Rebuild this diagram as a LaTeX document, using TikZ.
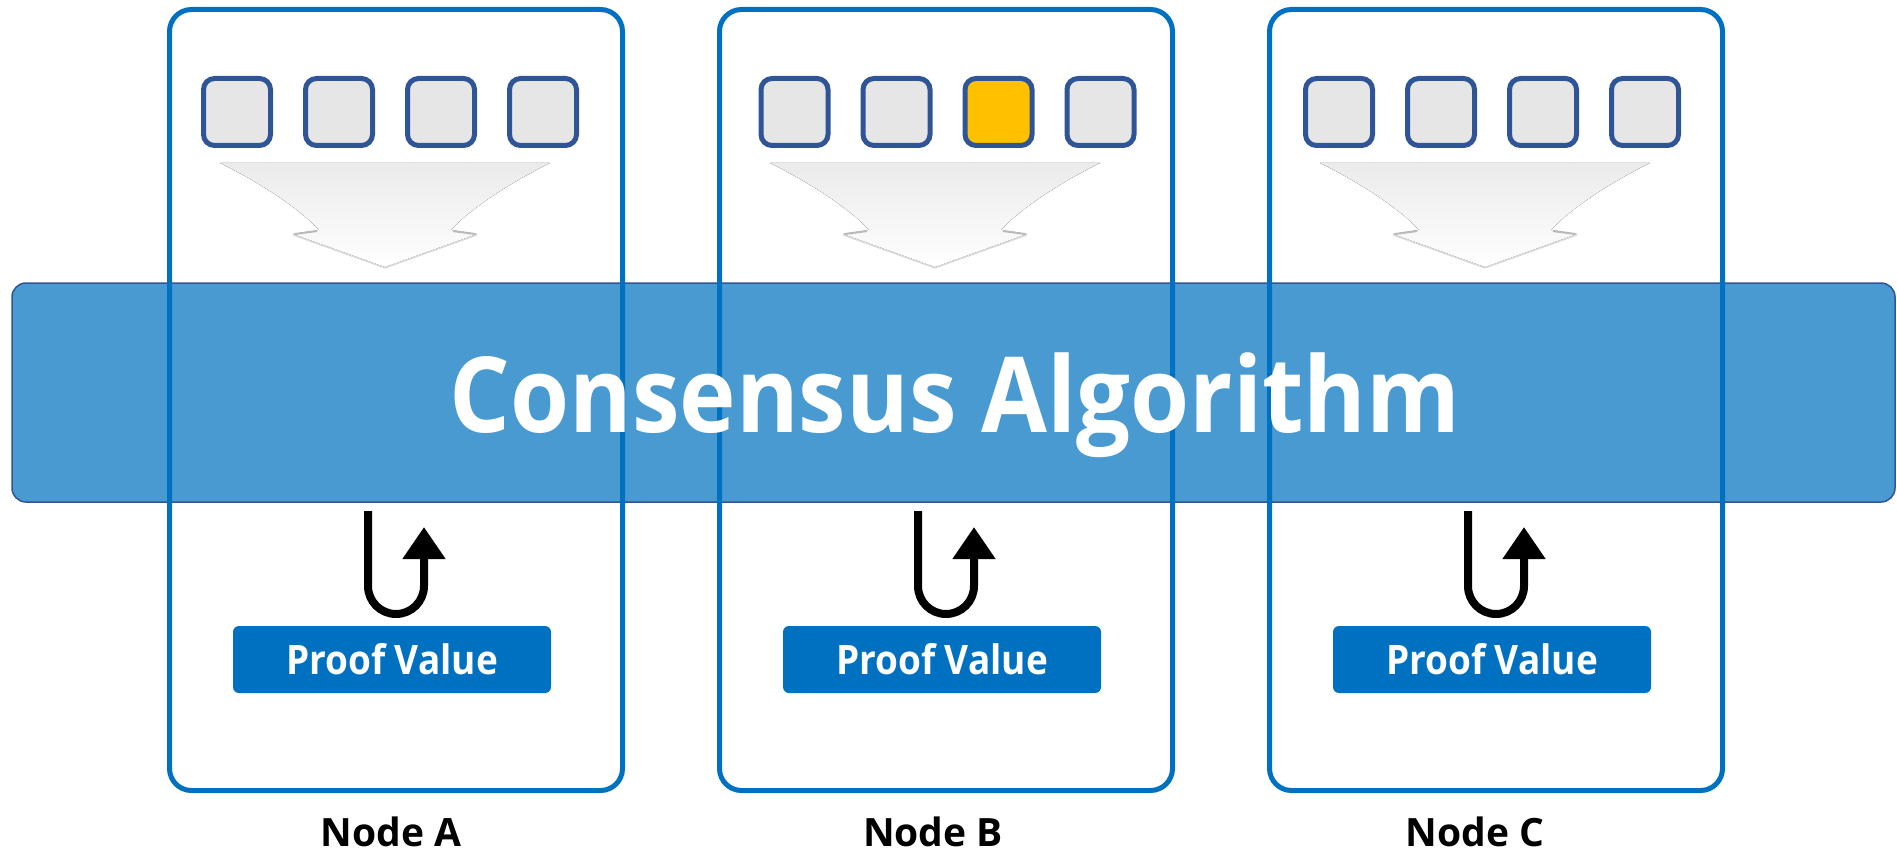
\documentclass[tikz,border=0pt]{standalone}
\usepackage{fontspec}
\setmainfont{Open Sans}
\newfontfamily\narrowfont{Open Sans}[FakeStretch=0.91]
\usetikzlibrary{arrows.meta}
\definecolor{panelblue}{HTML}{0070C0}
\definecolor{bandblue}{HTML}{4A9AD2}
\definecolor{edgeblue}{HTML}{2F5597}
\definecolor{cellgray}{HTML}{E6E6E6}
\definecolor{cellgold}{HTML}{FFC000}

\begin{document}
\begin{tikzpicture}[x=1pt, y=-1pt]
  %
  \tikzstyle{panel} = [draw=panelblue, line width=5pt, rounded corners=22pt, minimum width=453pt, minimum height=781pt, inner sep=0pt]
  \tikzstyle{c} = [draw=edgeblue, fill=cellgray, line width=5pt, rounded corners=11pt, minimum size=67pt, inner sep=0pt]
  \tikzstyle{band} = [draw=edgeblue, fill=bandblue, line width=1.5pt, rounded corners=14pt, minimum width=1883pt, minimum height=219pt]
  \tikzstyle{proof} = [fill=panelblue, rounded corners=6pt, minimum width=318pt, minimum height=67pt, inner sep=0pt, text height=29pt, text depth=0pt, text=white, font=\narrowfont\bfseries\fontsize{40.6}{44}\selectfont]
  \tikzstyle{nlabel} = [anchor=base, inner sep=0pt, font=\bfseries\fontsize{39}{42}\selectfont]
  \tikzstyle{uturn} = [line width=8pt, -{Triangle[width=41pt, length=32pt]}]
  \tikzstyle{flow} = [top color=gray!16, bottom color=white]
  \useasboundingbox (0,0) rectangle (1897,853);

  % shared layer
  \node[band] (band) at (953.5,392.5) {};

  \foreach \n/\cx/\mx/\lx/\hl in {A/396/-6/391/cellgray, B/946/1.5/933/cellgold, C/1496/-4/1475/cellgray}
  {
    \begin{scope}[shift={(\cx,0)}]
      \matrix[column sep=30pt, ampersand replacement=\&] (cells\n) at (\mx,112)
      {
        \node[c] (cell\n1) {}; \& \node[c] (cell\n2) {}; \& \node[c, fill=\hl] (cell\n3) {}; \& \node[c] (cell\n4) {}; \\
      };
      % flow into the band
      \begin{scope}[shift={(-11,0)}]
        \fill[flow] (-165,163) .. controls (-120,185) and (-82,212) .. (-66,230) -- (-92,234) -- (0,267)
          -- (92,234) -- (66,230) .. controls (82,212) and (120,185) .. (165,163) -- cycle;
        \draw[gray!55, line width=2pt] (-68,231) -- (-90,234);
        \draw[gray!55, line width=2pt] (68,231) -- (90,234);
        \draw[gray!30, line width=1.2pt] (-92,235) -- (0,268) -- (92,235);
      \end{scope}
      \node[panel] (panel\n) at (0,400) {};
      \coordinate (in\n) at (-28,511);
      \coordinate (out\n) at (28,527);
      \draw[uturn] (in\n) -- (-28,586) arc (180:0:28) -- (out\n);
      \node[proof] (pv\n) at (-4,659.5) {Proof Value};
      \node[nlabel] (name\n) at (\lx-\cx,846) {Node \n};
    \end{scope}
  }

  \node[anchor=base, text=white, font=\narrowfont\bfseries\fontsize{105}{110}\selectfont] (title) at (955,432) {Consensus Algorithm};
\end{tikzpicture}
\end{document}
